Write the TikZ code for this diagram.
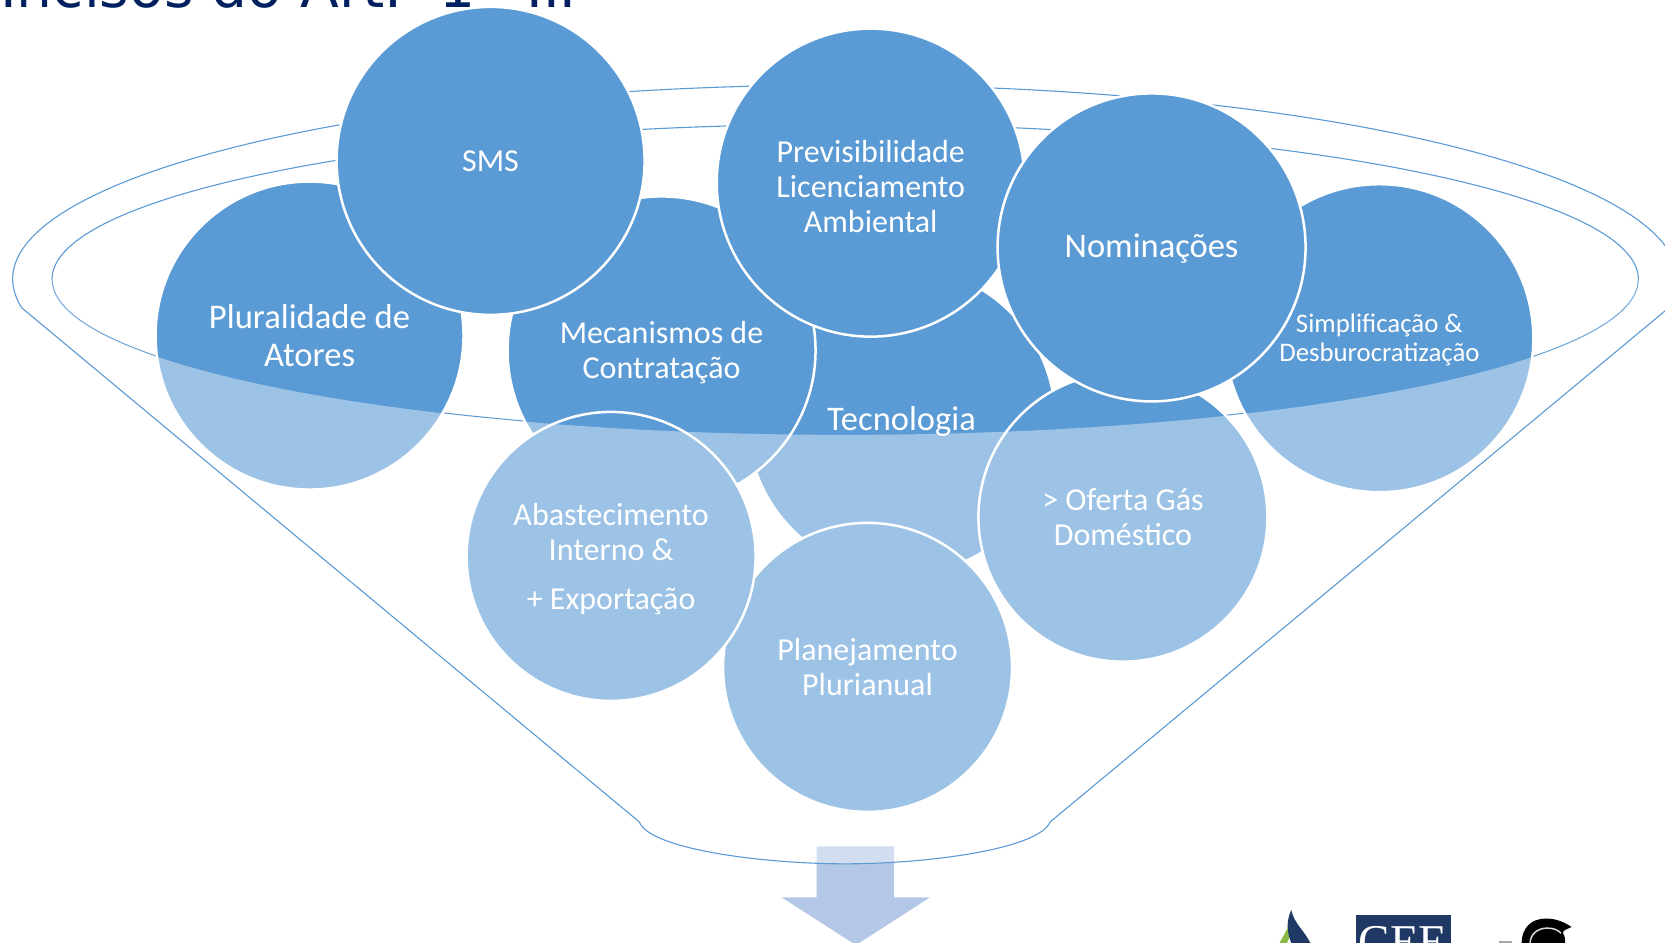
\documentclass[tikz,border=0pt]{standalone}
\usepackage{fontspec}
\setmainfont{Carlito}
\newfontfamily\titlefont{DejaVu Sans}
\newfontfamily\logofont{Liberation Serif}
\definecolor{fblue}{HTML}{5B9BD5}
\definecolor{arrowblue}{HTML}{B4C7E7}
\definecolor{titlenavy}{HTML}{002060}
\definecolor{logonavy}{HTML}{1F3864}
\definecolor{logogreen}{HTML}{8DB943}
\tikzset{
  bigdisc/.style={circle,fill=fblue,draw=white,line width=2.5pt,inner sep=0pt,outer sep=0pt,minimum size=308pt,text=white,align=center},
  smalldisc/.style={bigdisc,minimum size=289pt},
  rimline/.style={draw=fblue,line width=1.1pt},
  fsA/.style={font=\fontsize{34.6}{37.5}\selectfont},
  fsB/.style={font=\fontsize{32}{35}\selectfont},
  fsC/.style={font=\fontsize{26.8}{28.7}\selectfont},
  fsD/.style={font=\fontsize{34.5}{37}\selectfont}
}
\begin{document}
\begin{tikzpicture}[x=1.0619pt,y=-1.0619pt]
\useasboundingbox (0,0) rectangle (1568,888);
\clip (0,0) rectangle (1568,888);
\fill[white] (0,0) rectangle (1568,888);
% title
\node[anchor=base west,inner sep=0pt,text=titlenavy,font=\titlefont\fontsize{56.7}{60}\selectfont] (title) at (0,7.5) {Incisos do Art.\hspace{13pt} 1º\hspace{6pt} III};
% funnel rim (behind the discs)
\coordinate (outerleft) at (20.6,290);
\coordinate (innerleft) at (49,263);
\coordinate (innerright) at (1543,263);
\coordinate (outerright) at (1571.4,290);
\coordinate (bottomleft) at (602,774);
\coordinate (bottomright) at (989,774);
\draw[rimline] (outerleft) arc[start angle=188.5,end angle=-8.5,x radius=832.5pt,y radius=194.3pt];
\draw[rimline] (innerleft) arc[start angle=180,end angle=-180,x radius=793.2pt,y radius=155pt];
% arrow
\fill[arrowblue] (769,797) -- (842,797) -- (842,845) -- (876,845) -- (806,890) -- (736,845) -- (769,845) -- cycle;
% discs
\node[bigdisc,fsA] (plural) at (291.5,316) {Pluralidade de\\Atores};
\node[bigdisc,fsD] (tecno) at (849,396.5) {Tecnologia};
\node[bigdisc,fsB] (mecan) at (623,330) {\rule{0pt}{26pt}Mecanismos de\\Contratação};
\node[bigdisc,fsB] (sms) at (462,151.5) {SMS};
\node[bigdisc,fsB] (previ) at (820,172) {\rule{0pt}{30pt}Previsibilidade\\Licenciamento\\Ambiental};
\node[bigdisc,fsC] (simpl) at (1299,318.5) {\rule{0pt}{22pt}Simplificação \&\\Desburocratização};
\node[smalldisc,fsB] (oferta) at (1057.5,487) {> Oferta Gás\\Doméstico};
\node[bigdisc,fsD] (nomin) at (1084.5,233) {\rule{0pt}{26pt}Nominações};
\node[smalldisc,fsB] (plane) at (817,628.5) {Planejamento\\Plurianual};
\node[smalldisc,fsB] (abast) at (575.5,524) {\rule{0pt}{27pt}Abastecimento\\Interno \&\\[14pt]+ Exportação};
% translucent front of the funnel
\fill[white,fill opacity=0.4] (innerleft) arc[start angle=180,end angle=360,x radius=793.2pt,y radius=155.6pt]
  -- (outerright) -- (bottomright)
  .. controls (978,800) and (872,813.5) .. (796,813.5)
  .. controls (720,813.5) and (612,800) .. (bottomleft)
  -- (outerleft) -- cycle;
% funnel sides and spout
\draw[rimline] (outerleft) -- (bottomleft)
  .. controls (612,800) and (720,813.5) .. (796,813.5)
  .. controls (872,813.5) and (978,800) .. (bottomright) -- (outerright);
% logos
\fill[logogreen] (1205,888) -- (1216,868) -- (1219,873) -- (1212,888) -- cycle;
\fill[logonavy] (1216,857) .. controls (1212,866) and (1211,875) .. (1216,888) -- (1234,888) .. controls (1228,876) and (1219,870) .. (1216,857) -- cycle;
\fill[logonavy] (1277,862) rectangle (1366,888);
\node[anchor=base,inner sep=0pt,text=white,font=\logofont\fontsize{47}{47}\selectfont] (cee) at (1321.5,902) {CEE};
\fill[gray!70] (1412,886) rectangle (1424,888);
\fill[black] (1433,888) .. controls (1433,874) and (1442,865) .. (1456,865) .. controls (1466,865) and (1474,869) .. (1480,873) .. controls (1476,875) and (1471,876) .. (1472,879) .. controls (1474,882) and (1474,885) .. (1474,888) -- cycle;
\draw[gray!30,line width=1.5pt] (1441,888) .. controls (1441,880) and (1448,874) .. (1457,874) .. controls (1463,874) and (1468,876) .. (1470,879);
\end{tikzpicture}
\end{document}
